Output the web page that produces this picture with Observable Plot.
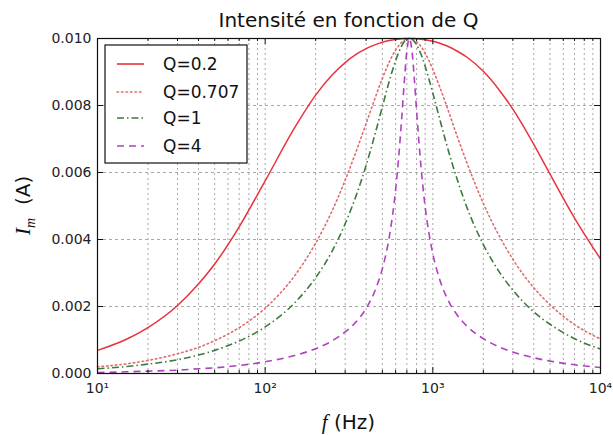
<!DOCTYPE html>
<html>
<head>
<meta charset="utf-8">
<script src="https://cdn.jsdelivr.net/npm/d3@7"></script>
<script src="https://cdn.jsdelivr.net/npm/@observablehq/plot@0.6"></script>
<style>
  html, body { margin: 0; padding: 0; background: white; }
  #chart { width: 613px; height: 435px; }
</style>
</head>
<body>
<div id="chart"></div>
<script>
const title = "Intensité en fonction de Q";
const xLabel = "(Hz)";
const seriesNames = ["Q=0.2", "Q=0.707", "Q=1", "Q=4"];
const seriesColors = ["#e8333c", "#e26a6a", "#3d7a3d", "#b040c0"];
const seriesDash = [null, "1.5,3", "7,3,1.5,3", "7,5"];

const freq = [10,15,20,30,40,50,70,100,150,200,250,300,350,400,450,500,550,600,625,650,675,700,725,750,775,800,850,900,950,1000,1100,1200,1400,1600,2000,2500,3000,4000,5000,7000,10000];
const iQ02 = [0.00069,0.00103,0.00137,0.00203,0.00267,0.00327,0.00438,0.00575,0.00734,0.00831,0.00890,0.00928,0.00953,0.00970,0.00981,0.00989,0.00994,0.00997,0.00998,0.00999,0.01000,0.01000,0.01000,0.01000,0.01000,0.00999,0.00998,0.00996,0.00994,0.00992,0.00986,0.00979,0.00962,0.00944,0.00902,0.00845,0.00789,0.00684,0.00595,0.00464,0.00342];
const iQ0707 = [0.00020,0.00029,0.00039,0.00059,0.00078,0.00098,0.00137,0.00195,0.00292,0.00389,0.00484,0.00577,0.00665,0.00746,0.00819,0.00881,0.00930,0.00966,0.00978,0.00988,0.00995,0.00999,0.01000,0.00999,0.00996,0.00990,0.00976,0.00956,0.00933,0.00908,0.00855,0.00803,0.00707,0.00628,0.00508,0.00409,0.00341,0.00256,0.00205,0.00146,0.00103];
const iQ1 = [0.00014,0.00021,0.00028,0.00041,0.00055,0.00069,0.00097,0.00139,0.00211,0.00286,0.00364,0.00447,0.00533,0.00621,0.00711,0.00796,0.00873,0.00934,0.00958,0.00977,0.00990,0.00998,0.01000,0.00998,0.00991,0.00981,0.00953,0.00917,0.00877,0.00837,0.00759,0.00689,0.00578,0.00495,0.00385,0.00302,0.00249,0.00184,0.00147,0.00104,0.00073];
const iQ4 = [0.00003,0.00005,0.00007,0.00010,0.00014,0.00017,0.00024,0.00035,0.00054,0.00074,0.00097,0.00124,0.00155,0.00194,0.00245,0.00313,0.00408,0.00549,0.00643,0.00752,0.00868,0.00963,0.01000,0.00965,0.00882,0.00785,0.00617,0.00497,0.00416,0.00357,0.00280,0.00231,0.00174,0.00141,0.00104,0.00079,0.00064,0.00047,0.00037,0.00026,0.00018];

const xMajor = [10, 100, 1000, 10000];
const xMinor = [20,30,40,50,60,70,80,90,200,300,400,500,600,700,800,900,2000,3000,4000,5000,6000,7000,8000,9000];
const yTicks = [0, 0.002, 0.004, 0.006, 0.008, 0.010];
const supDigits = {"1":"¹","2":"²","3":"³","4":"⁴"};

const allSeries = [iQ02, iQ0707, iQ1, iQ4];
const rows = [];
allSeries.forEach((vals, s) => freq.forEach((f, i) => rows.push({f, I: vals[i], s})));

const W = 613, H = 435, mL = 97, mR = 13, mT = 38, mB = 62;
const innerH = H - mT - mB;
const innerW = W - mL - mR;

const marks = [
  Plot.ruleX([...xMinor, ...xMajor], {stroke: "#a8a8a8", strokeDasharray: "2,3", strokeWidth: 1}),
  Plot.ruleY(yTicks, {stroke: "#a8a8a8", strokeDasharray: "3,3", strokeWidth: 1}),
];
allSeries.forEach((vals, s) => {
  marks.push(Plot.line(rows.filter(r => r.s === s), {
    x: "f", y: "I", stroke: seriesColors[s], strokeWidth: s === 0 ? 1.5 : 1.6,
    strokeDasharray: seriesDash[s] || undefined, curve: "monotone-x",
    strokeLinecap: s === 1 ? "round" : "butt"
  }));
});
marks.push(
  Plot.frame({stroke: "#111", strokeWidth: 1.2}),
  Plot.ruleX(xMajor, {stroke: "#111", insetTop: innerH - 6}),
  Plot.ruleX(xMajor, {stroke: "#111", insetBottom: innerH - 6}),
  Plot.ruleX(xMinor, {stroke: "#111", insetTop: innerH - 3}),
  Plot.ruleX(xMinor, {stroke: "#111", insetBottom: innerH - 3}),
  Plot.ruleY(yTicks, {stroke: "#111", insetRight: innerW - 6}),
  Plot.ruleY(yTicks, {stroke: "#111", insetLeft: innerW - 6}),
  Plot.axisX(xMajor, {anchor: "bottom", tickSize: 0, tickPadding: 10, fontSize: 14, label: null,
    tickFormat: d => "10" + supDigits[String(Math.round(Math.log10(d)))]}),
  Plot.axisY(yTicks, {anchor: "left", tickSize: 0, tickPadding: 6, fontSize: 14, label: null,
    tickFormat: d3.format(".3f")})
);

const chart = Plot.plot({
  width: W, height: H,
  marginLeft: mL, marginRight: mR, marginTop: mT, marginBottom: mB,
  x: {type: "log", domain: [10, 10000]},
  y: {domain: [0, 0.01]},
  style: {fontFamily: "DejaVu Sans", background: "white", color: "#222"},
  marks
});
document.getElementById("chart").appendChild(chart);

const svg = d3.select(chart);
svg.append("text").attr("x", mL + innerW / 2).attr("y", 27).attr("text-anchor", "middle")
  .attr("font-family", "DejaVu Sans").attr("font-size", 20).attr("fill", "#111").text(title);
const xl = svg.append("text").attr("x", mL + innerW / 2).attr("y", 429).attr("text-anchor", "middle")
  .attr("font-size", 20).attr("fill", "#111");
xl.append("tspan").attr("font-family", "Liberation Serif").attr("font-style", "italic").attr("font-size", 21).text("f");
xl.append("tspan").attr("font-family", "DejaVu Sans").text(" " + xLabel);
const yl = svg.append("text").attr("transform", `translate(30,${mT + innerH / 2}) rotate(-90)`)
  .attr("text-anchor", "middle").attr("font-size", 20).attr("fill", "#111");
yl.append("tspan").attr("font-family", "Liberation Serif").attr("font-style", "italic").attr("font-size", 22).text("I");
yl.append("tspan").attr("font-family", "Liberation Serif").attr("font-style", "italic").attr("font-size", 14).attr("dy", 5).text("m");
yl.append("tspan").attr("font-family", "DejaVu Sans").attr("dy", -5).text("  (A)");
const lg = svg.append("g");
lg.append("rect").attr("x", 105).attr("y", 45).attr("width", 142).attr("height", 118)
  .attr("fill", "white").attr("stroke", "#111").attr("stroke-width", 1.2);
const rowY = [64, 92, 118, 146];
seriesNames.forEach((name, i) => {
  lg.append("line").attr("x1", 117).attr("x2", 144).attr("y1", rowY[i]).attr("y2", rowY[i])
    .attr("stroke", seriesColors[i]).attr("stroke-width", 1.6)
    .attr("stroke-dasharray", seriesDash[i]).attr("stroke-linecap", i === 1 ? "round" : "butt");
  lg.append("text").attr("x", 163).attr("y", rowY[i]).attr("dy", "0.35em").attr("text-anchor", "start")
    .attr("font-family", "DejaVu Sans").attr("font-size", 17).attr("fill", "#111").text(name);
});
</script>
</body>
</html>
